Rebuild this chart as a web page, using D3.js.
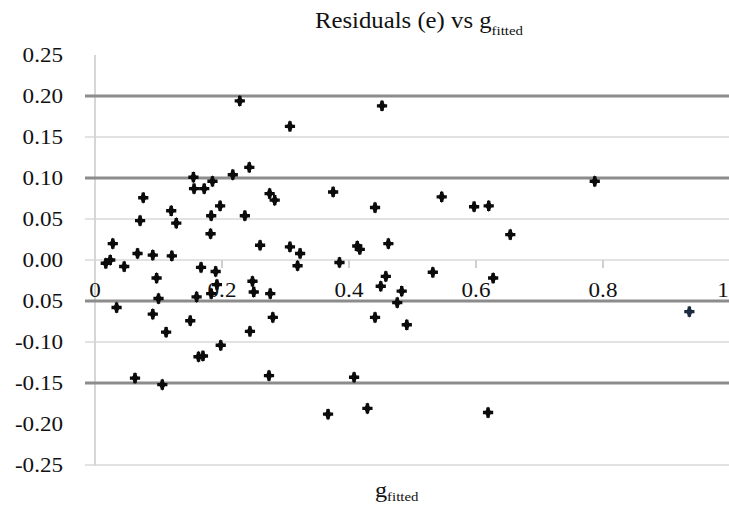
<!DOCTYPE html>
<html>
<head>
<meta charset="utf-8">
<script src="https://cdn.jsdelivr.net/npm/d3@7"></script>
<style>
html,body{margin:0;padding:0;background:#fff;}
text{font-family:"Liberation Serif","Times New Roman",serif;fill:#111;}
</style>
</head>
<body>
<svg id="chart" width="729" height="510"></svg>
<script>
// ---- data ----
const gFitted = [0.228,0.452,0.307,0.243,0.217,0.155,0.156,0.172,0.185,0.076,0.071,0.120,0.128,0.197,0.183,0.236,0.275,0.283,0.182,0.375,0.441,0.546,0.597,0.620,0.787,0.654,0.028,0.017,0.024,0.046,0.067,0.091,0.121,0.167,0.190,0.192,0.183,0.097,0.100,0.160,0.248,0.250,0.276,0.260,0.307,0.323,0.319,0.385,0.413,0.417,0.462,0.458,0.450,0.483,0.476,0.441,0.491,0.532,0.627,0.936,0.034,0.091,0.150,0.280,0.112,0.244,0.198,0.163,0.170,0.063,0.106,0.274,0.408,0.367,0.429,0.619];
const residuals = [0.194,0.188,0.163,0.113,0.104,0.101,0.087,0.087,0.096,0.076,0.048,0.060,0.045,0.066,0.054,0.054,0.081,0.073,0.032,0.083,0.064,0.077,0.065,0.066,0.096,0.031,0.020,-0.004,0.000,-0.008,0.008,0.006,0.005,-0.009,-0.014,-0.030,-0.041,-0.022,-0.047,-0.045,-0.026,-0.039,-0.041,0.018,0.016,0.008,-0.007,-0.003,0.017,0.013,0.020,-0.020,-0.032,-0.038,-0.052,-0.070,-0.079,-0.015,-0.022,-0.063,-0.058,-0.066,-0.074,-0.070,-0.088,-0.087,-0.104,-0.118,-0.117,-0.144,-0.152,-0.141,-0.143,-0.188,-0.181,-0.186];
const yTickValues = [0.25,0.20,0.15,0.10,0.05,0.00,-0.05,-0.10,-0.15,-0.20,-0.25];
const yTickLabels = ["0.25","0.20","0.15","0.10","0.05","0.00","0.05","-0.10","-0.15","-0.20","-0.25"];
const xTickValues = [0,0.2,0.4,0.6,0.8,1];
const xTickLabels = ["0","0.2","0.4","0.6","0.8","1"];
const majorGrid = [0.20,0.10,-0.05,-0.15];
const minorGrid = [0.15,0.05,0.00,-0.10,-0.25];
const titleMain = "Residuals (e) vs g";
const titleSub = "fitted";
const xTitleMain = "g";
const xTitleSub = "fitted";

// ---- chart ----
const svg = d3.select("#chart");
const x = d3.scaleLinear().domain([0,1]).range([95,730]);
const y = d3.scaleLinear().domain([-0.25,0.25]).range([465,55]);
const gridLeft = 85, gridRight = 729;
const sx = 1.1;

// minor grid
svg.append("g").selectAll("line").data(minorGrid).join("line")
  .attr("x1", gridLeft).attr("x2", gridRight)
  .attr("y1", d => y(d)).attr("y2", d => y(d))
  .attr("stroke", "#e2e2e2").attr("stroke-width", 2);

// vertical axis line
svg.append("line")
  .attr("x1", x(0)).attr("x2", x(0))
  .attr("y1", y(0.25)).attr("y2", y(-0.25)+1)
  .attr("stroke", "#d6d6d6").attr("stroke-width", 2);

// x ticks on zero line
svg.append("g").selectAll("line").data(xTickValues.slice(1)).join("line")
  .attr("x1", d => x(d)).attr("x2", d => x(d))
  .attr("y1", y(0)).attr("y2", y(0)+8)
  .attr("stroke", "#cfcfcf").attr("stroke-width", 2);

// major grid
svg.append("g").selectAll("line").data(majorGrid).join("line")
  .attr("x1", gridLeft).attr("x2", gridRight)
  .attr("y1", d => y(d)).attr("y2", d => y(d))
  .attr("stroke", "#8c8c8c").attr("stroke-width", 3);

// x tick labels (last one kept inside the frame)
svg.append("g").selectAll("text").data(xTickValues).join("text")
  .attr("transform", d => `translate(${Math.min(x(d), 723)},297) scale(${sx},1)`)
  .attr("text-anchor", "middle").attr("font-size", 21)
  .text((d,i) => xTickLabels[i]);

// points
const pts = gFitted.map((g,i) => ({g, e: residuals[i], last: g > 0.9}));
const gp = svg.append("g");
gp.selectAll("path.c").data(pts).join("path").attr("class","c")
  .attr("d", d3.symbol().type(d3.symbolCross).size(58))
  .attr("transform", d => `translate(${x(d.g)},${y(d.e)})`)
  .attr("fill", d => d.last ? "#1b2b40" : "#0b0b0b");
gp.selectAll("path.d").data(pts).join("path").attr("class","d")
  .attr("d", d3.symbol().type(d3.symbolDiamond).size(42))
  .attr("transform", d => `translate(${x(d.g)},${y(d.e)})`)
  .attr("fill", d => d.last ? "#1b2b40" : "#0b0b0b");

// y tick labels
svg.append("g").selectAll("text").data(yTickValues).join("text")
  .attr("transform", d => `translate(63,${y(d)}) scale(${sx},1)`)
  .attr("text-anchor", "end").attr("dy", "0.35em").attr("font-size", 21)
  .text((d,i) => yTickLabels[i]);

// title
const t = svg.append("text")
  .attr("transform", `translate(315,28) scale(${sx},1)`)
  .attr("font-size", 22.5);
t.append("tspan").text(titleMain);
t.append("tspan").attr("font-size", 13.5).attr("dy", 7).text(titleSub);

// x axis title
const xt = svg.append("text")
  .attr("transform", `translate(375,497) scale(${sx},1)`)
  .attr("font-size", 22);
xt.append("tspan").text(xTitleMain);
xt.append("tspan").attr("font-size", 13.5).attr("dy", 4).text(xTitleSub);
</script>
</body>
</html>
